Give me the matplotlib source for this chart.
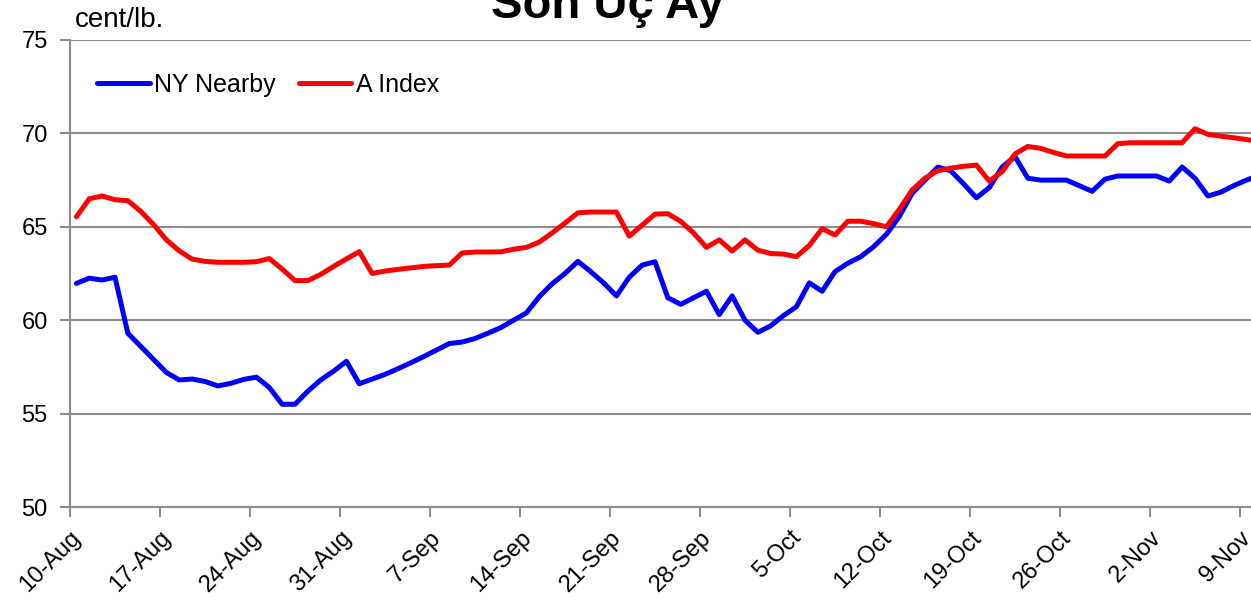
import matplotlib
matplotlib.use("Agg")
import matplotlib.pyplot as plt
import numpy as np
import pandas as pd

# daily values, 10-Aug-2009 .. 10-Nov-2009 (cent/lb.)
dates = pd.date_range("2009-08-10", "2009-11-10", freq="D")

ny_nearby = [61.97, 62.25, 62.15, 62.3, 59.3, 58.6, 57.9, 57.2, 56.8, 56.85,
             56.72, 56.48, 56.62, 56.83, 56.95, 56.4, 55.5, 55.5, 56.2, 56.8,
             57.27, 57.8, 56.6, 56.85, 57.1, 57.4, 57.72, 58.05, 58.4, 58.75,
             58.83, 59.02, 59.3, 59.6, 60.0, 60.39, 61.26, 61.95, 62.5, 63.15,
             62.6, 62.0, 61.3, 62.3, 62.95, 63.13, 61.2, 60.85, 61.2, 61.55,
             60.3, 61.3, 60.0, 59.35, 59.7, 60.25, 60.72, 62.0, 61.55, 62.6,
             63.05, 63.4, 63.93, 64.6, 65.55, 66.79, 67.5, 68.2, 68.0, 67.3,
             66.55, 67.1, 68.2, 68.76, 67.6, 67.5, 67.5, 67.5, 67.2, 66.9,
             67.55, 67.72, 67.72, 67.72, 67.72, 67.45, 68.2, 67.6, 66.65, 66.85,
             67.2, 67.5, 67.75]

a_index = [65.54, 66.5, 66.65, 66.45, 66.4, 65.83, 65.12, 64.3, 63.71, 63.27,
           63.15, 63.1, 63.1, 63.1, 63.13, 63.3, 62.74, 62.12, 62.12, 62.45,
           62.88, 63.28, 63.67, 62.5, 62.63, 62.72, 62.8, 62.88, 62.92, 62.95,
           63.6, 63.65, 63.65, 63.66, 63.8, 63.9, 64.18, 64.67, 65.2, 65.75,
           65.79, 65.79, 65.79, 64.5, 65.09, 65.68, 65.7, 65.29, 64.67, 63.9,
           64.3, 63.7, 64.3, 63.75, 63.57, 63.54, 63.4, 64.0, 64.9, 64.56,
           65.3, 65.3, 65.17, 65.0, 65.93, 66.97, 67.6, 68.0, 68.14, 68.24,
           68.3, 67.45, 67.95, 68.9, 69.3, 69.2, 68.98, 68.79, 68.79, 68.79,
           68.79, 69.45, 69.5, 69.5, 69.5, 69.5, 69.5, 70.25, 69.95, 69.85,
           69.77, 69.67, 69.58]

tick_dates = pd.date_range("2009-08-10", "2009-11-09", freq="7D")
tick_labels = ["10-Aug", "17-Aug", "24-Aug", "31-Aug", "7-Sep", "14-Sep", "21-Sep",
               "28-Sep", "5-Oct", "12-Oct", "19-Oct", "26-Oct", "2-Nov", "9-Nov"]
y_ticks = [50, 55, 60, 65, 70, 75]

plt.rcParams['font.family'] = ['Liberation Sans', 'DejaVu Sans']

W, H = 1251, 616
day_px = 1170 / 91  # 13 weeks between 10-Aug and 9-Nov ticks
fig = plt.figure(figsize=(W / 100, H / 100), dpi=100)
# date axis with points between tick marks: each day is a column, axis runs past the image edge
ax = fig.add_axes([70 / W, 1 - 507 / H, 93 * day_px / W, 467 / H])

# points sit in the middle of each day column
x_pts = dates + pd.Timedelta(hours=12)

grid_c = '#8c8c8c'
ax.plot(x_pts, ny_nearby, color='#0000ff', lw=3.6, label='NY Nearby', solid_capstyle='round')
ax.plot(x_pts, a_index, color='#ff0000', lw=3.6, label='A Index', solid_capstyle='round')

ax.set_ylim(50, 75)
ax.set_xlim(dates[0], dates[-1] + pd.Timedelta(days=1))
ax.set_yticks(y_ticks)
ax.set_yticklabels([str(v) for v in y_ticks], fontsize=17)
ax.set_xticks(tick_dates)
ax.set_xticklabels(tick_labels, fontsize=17, rotation=45, ha='right', rotation_mode='anchor')

ax.yaxis.grid(True, color=grid_c, lw=1.5)
ax.set_axisbelow(True)
for s in ['top', 'right']:
    ax.spines[s].set_visible(False)
for s in ['left', 'bottom']:
    ax.spines[s].set_color(grid_c)
    ax.spines[s].set_linewidth(1.5)
ax.tick_params(axis='both', direction='out', length=7, width=1.5, color=grid_c)
ax.tick_params(axis='y', pad=9)
ax.tick_params(axis='x', pad=7)

ax.legend(loc='center left', bbox_to_anchor=(27 / (93 * day_px), (507 - 85) / 467), ncol=2,
          frameon=False, borderpad=0, borderaxespad=0, fontsize=18,
          handlelength=2.1, handletextpad=0.2, columnspacing=0.9)

fig.text(75 / W, 1 - 27 / H, "cent/lb.", fontsize=20, ha='left', va='baseline')
fig.text(607 / W, 1 - 18 / H, "Son Üç Ay", fontsize=34, fontweight='bold',
         ha='center', va='baseline')

fig.savefig("out.png", dpi=100)
